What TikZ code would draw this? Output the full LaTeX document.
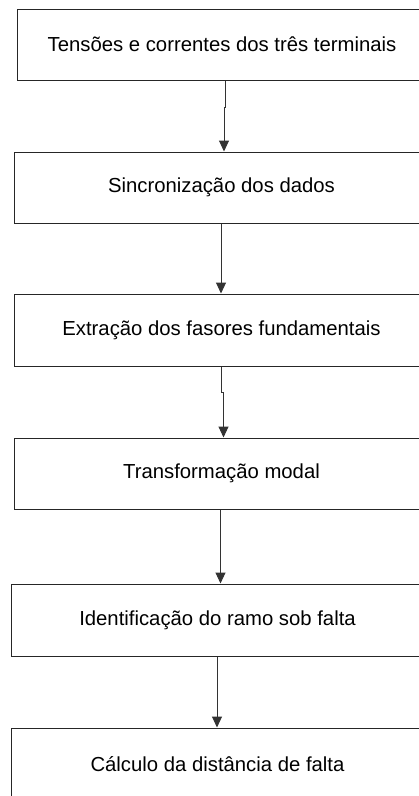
\documentclass[tikz,border=0pt]{standalone}
\usepackage{fontspec}
\setmainfont{Liberation Sans}
\usetikzlibrary{arrows.meta}
\tikzset{
  stepbox/.style={draw=black!85, line width=1pt, inner sep=0pt, fill=white,
    font=\fontsize{20.3}{24}\selectfont, text=black},
  arr/.style={draw=black!80, line width=1pt, -{Triangle[width=10pt,length=11pt]}},
}
\begin{document}
\begin{tikzpicture}[x=1pt,y=-1pt]
\useasboundingbox (0,0) rectangle (419,796);
\clip (0,0) rectangle (419,796);
\node[stepbox, minimum width=410pt, minimum height=71pt] (b1) at (222,44.5) {Tensões e correntes dos três terminais};
\node[stepbox, minimum width=415pt, minimum height=71pt] (b2) at (221.5,187.5) {Sincronização dos dados};
\node[stepbox, minimum width=415pt, minimum height=72pt] (b3) at (221.5,330) {Extração dos fasores fundamentais};
\node[stepbox, minimum width=415pt, minimum height=71pt] (b4) at (221.5,473.5) {Transformação modal};
\node[stepbox, minimum width=413pt, minimum height=72pt] (b5) at (217.5,620) {Identificação do ramo sob falta};
\node[stepbox, minimum width=413pt, minimum height=72pt] (b6) at (217.5,764) {Cálculo da distância de falta};
% connectors
\coordinate (x1) at (225,107);
\coordinate (y1) at (224,107);
\draw[arr] (b1.south -| x1) -- (x1) -- (y1) -- (b2.north -| y1);
\coordinate (x2) at (221,0);
\draw[arr] (b2.south -| x2) -- (b3.north -| x2);
\coordinate (x3) at (221,392);
\coordinate (y3) at (223.5,392);
\draw[arr] (b3.south -| x3) -- (x3) -- (y3) -- (b4.north -| y3);
\coordinate (x4) at (220.5,0);
\draw[arr] (b4.south -| x4) -- (b5.north -| x4);
\coordinate (x5) at (217,0);
\draw[arr] (b5.south -| x5) -- (b6.north -| x5);
\end{tikzpicture}
\end{document}
